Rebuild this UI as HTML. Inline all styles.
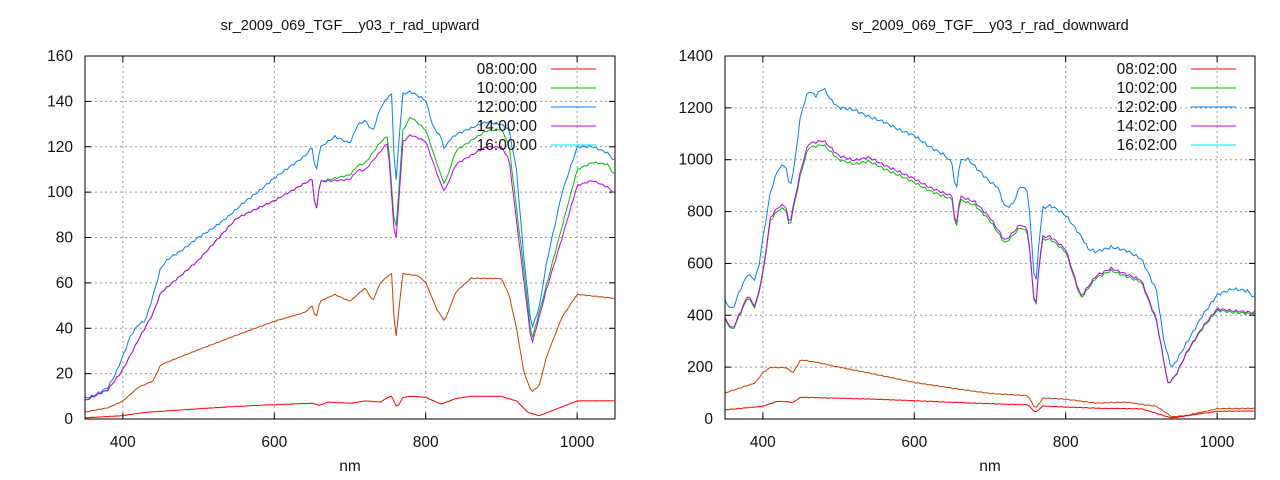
<!DOCTYPE html>
<html><head><meta charset="utf-8"><style>
body{margin:0;background:#fff;}
svg{display:block;font-family:"Liberation Sans",sans-serif;}
text{fill:#111;font-size:15.5px;}
</style></head><body>
<svg id="s" width="1280" height="480" xmlns="http://www.w3.org/2000/svg"></svg>
<script>
const S=document.getElementById('s');
let h='';
function plot(ox,title,ymax,ystep,times,series){
  const L=ox,R=ox+530,T=56,B=419;
  const X=v=>L+(v-350)/700*530, Y=v=>B-v/ymax*(B-T);
  h+=`<text x="${(L+R)/2}" y="30" text-anchor="middle" style="font-size:14.5px">${title}</text>`;
  h+=`<text x="${(L+R)/2}" y="471" text-anchor="middle">nm</text>`;
  for(let v=0;v<=ymax;v+=ystep){const y=Y(v);
    if(v>0&&v<ymax)h+=`<line x1="${L}" x2="${R}" y1="${y}" y2="${y}" stroke="#999" stroke-dasharray="2,3"/>`;
    h+=`<line x1="${L}" x2="${L+6}" y1="${y}" y2="${y}" stroke="#000"/><line x1="${R-6}" x2="${R}" y1="${y}" y2="${y}" stroke="#000"/>`;
    h+=`<text x="${L-12}" y="${y+5}" text-anchor="end">${v}</text>`;}
  for(let v=400;v<=1000;v+=200){const x=X(v);
    h+=`<line x1="${x}" x2="${x}" y1="${T}" y2="${B}" stroke="#999" stroke-dasharray="2,3"/>`;
    h+=`<line x1="${x}" x2="${x}" y1="${B}" y2="${B-6}" stroke="#000"/><line x1="${x}" x2="${x}" y1="${T}" y2="${T+6}" stroke="#000"/>`;
    h+=`<text x="${x}" y="${B+28}" text-anchor="middle">${v}</text>`;}
  series.forEach(([col,pts])=>{
    let p=[];for(let i=0;i<pts.length;i+=2)p.push(X(pts[i]).toFixed(1)+','+Y(pts[i+1]).toFixed(1));
    h+=`<polyline fill="none" stroke="${col}" stroke-width="1" points="${p.join(' ')}"/>`;});
  const lc=['#ff0000','#00c000','#0080ff','#c000ff','#00e0e0'];
  times.forEach((t,i)=>{const y=69+i*19;
    h+=`<text x="${R-78}" y="${y+5}" text-anchor="end">${t}</text>`;
    h+=`<line x1="${R-64}" x2="${R-19}" y1="${y}" y2="${y}" stroke="${lc[i]}"/>`;});
  h+=`<rect x="${L}" y="${T}" width="530" height="${B-T}" fill="none" stroke="#000"/>`;
}
function interp(cp,step,noise,amp){let o=[];for(let x=350;x<=1050;x+=step){let i=0;while(i<cp.length-4&&cp[i+2]<x)i+=2;
 let x0=cp[i],y0=cp[i+1],x1=cp[i+2],y1=cp[i+3];let t=x1==x0?0:(x-x0)/(x1-x0);t=Math.max(0,Math.min(1,t));
 let y=y0+(y1-y0)*t;y+=noise*Math.sin(x*1.7)*Math.sin(x*0.37)*amp;o.push(x,y);}return o;}
const lb=[350,9,360,10,380,14,390,20,400,28,410,37,420,42,430,44,440,55,450,67,460,71,480,75,500,80,520,84,540,89,560,95,580,100,600,106,620,111,640,116,650,120,655,108,660,120,680,125,700,122,710,130,720,132,730,127,740,137,750,142,755,143,760,100,765,125,770,143,780,144,790,142,800,140,810,128,820,124,825,118,830,122,840,125,860,128,880,131,900,130,910,128,920,110,930,70,940,40,950,50,960,70,970,85,980,100,1000,120,1020,120,1040,117,1050,113];
const lg=[350,8,380,13,400,22,420,35,440,47,450,56,500,70,550,88,600,96,650,106,655,90,660,105,700,108,710,112,720,113,740,122,750,125,760,80,770,127,780,133,800,127,820,107,825,103,840,118,880,127,900,128,910,121,930,65,940,35,960,60,980,85,1000,110,1020,113,1040,112,1050,107];
const lp=[350,8,380,13,400,22,420,35,440,47,450,56,500,70,550,88,600,96,650,106,655,90,660,105,700,106,710,110,720,110,740,118,750,122,760,75,770,122,780,125,800,122,820,103,825,100,840,112,880,120,900,120,910,115,930,60,940,33,960,58,980,80,1000,103,1020,105,1040,102,1050,99];
const lbr=[350,3,380,5,400,8,420,14,440,17,450,24,480,28,520,33,560,38,600,43,640,47,650,50,655,44,660,52,680,55,700,52,720,58,730,52,740,60,750,63,755,64,760,33,765,50,770,64,790,63,800,60,815,48,825,43,840,56,860,62,900,62,910,55,920,40,930,20,940,12,950,15,960,28,980,45,1000,55,1050,53];
const lr=[350,0.5,400,1.5,430,3,500,4.5,550,5.5,600,6.3,650,7,660,6,670,7.5,700,7,720,8,740,7.5,750,9.5,755,10,762,5,770,9.5,780,10,800,9.5,820,6.5,840,9,860,10,900,10,920,8,935,3,950,1.5,1000,8,1050,8];
plot(85,'sr_2009_069_TGF__y03_r_rad_upward',160,20,['08:00:00','10:00:00','12:00:00','14:00:00','16:00:00'],[
 ['#c84000',interp(lbr,3,0.3,1)],['#ff0000',interp(lr,3,0.1,1)],['#0080ff',interp(lb,3,1,1)],['#00c000',interp(lg,3,0.8,1)],['#c000ff',interp(lp,3,0.8,1)]]);
const rb=[350,450,360,420,370,500,380,560,390,540,395,600,400,700,410,880,420,970,430,990,435,900,440,950,450,1180,460,1270,470,1250,480,1280,490,1230,500,1200,520,1190,540,1160,560,1140,580,1110,600,1090,620,1050,640,1020,650,990,655,870,660,1000,670,1010,680,980,700,920,710,900,720,820,730,830,740,900,750,880,760,490,765,700,770,810,780,820,790,800,800,780,820,700,830,650,840,640,860,660,880,650,900,620,920,500,930,300,940,200,960,300,980,400,1000,480,1020,500,1040,490,1050,460];
const rg=[350,380,360,340,380,470,390,430,400,560,410,770,420,810,430,820,435,740,450,950,460,1050,480,1060,500,1000,520,980,540,990,560,960,600,910,620,880,640,860,650,850,655,720,660,850,680,830,700,770,720,680,740,740,750,720,760,400,765,600,770,690,780,690,800,640,820,460,840,540,860,570,880,550,900,530,920,380,935,140,945,170,960,260,980,350,1000,420,1020,410,1050,400];
const rp=rg.map((v,i)=>i%2?v*1.015:v);
const rbr=[350,100,370,120,390,140,400,180,410,200,430,200,440,180,450,230,470,220,500,200,550,170,600,140,650,120,700,100,750,90,760,40,770,80,800,75,840,60,880,65,920,50,940,10,960,15,1000,40,1050,40];
const rr=[350,35,400,50,420,70,440,65,450,85,500,80,600,70,700,60,750,55,760,25,770,50,800,45,850,40,900,40,940,5,1000,30,1050,30];
plot(725,'sr_2009_069_TGF__y03_r_rad_downward',1400,200,['08:02:00','10:02:00','12:02:00','14:02:00','16:02:00'],[
 ['#c84000',interp(rbr,3,3,1)],['#ff0000',interp(rr,3,2,1)],['#0080ff',interp(rb,3,12,1)],['#00c000',interp(rg,3,10,1)],['#c000ff',interp(rp,3,10,1)]]);
S.innerHTML=h;
</script>
</body></html>
